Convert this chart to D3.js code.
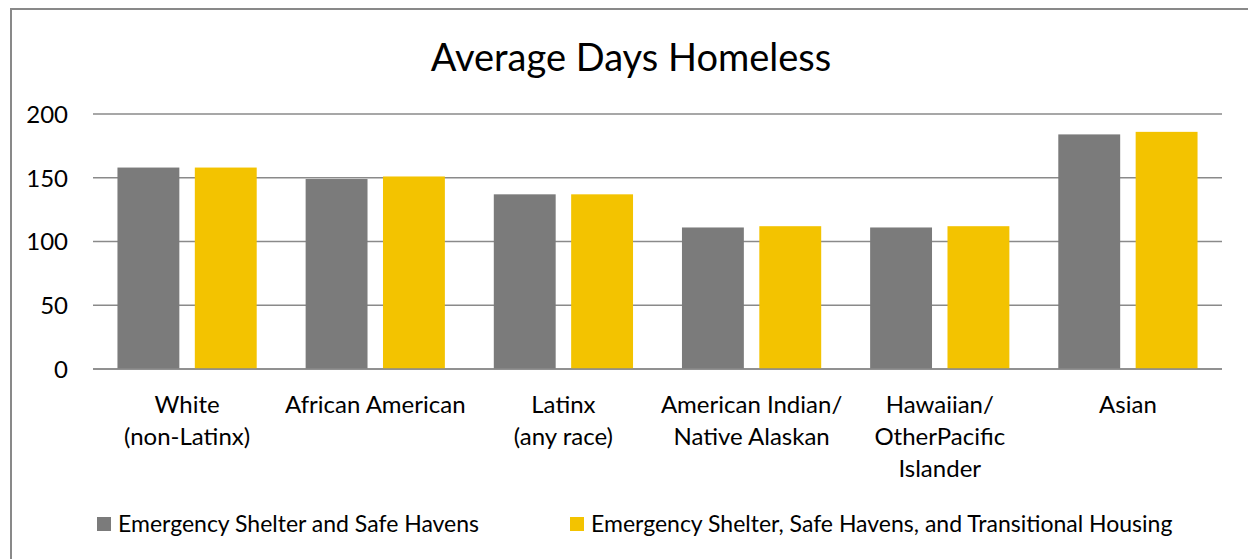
<!DOCTYPE html>
<html>
<head>
<meta charset="utf-8">
<script src="https://cdn.jsdelivr.net/npm/d3@7"></script>
<style>
  html, body { margin: 0; padding: 0; background: #fff; }
  svg { display: block; font-family: Lato, "Open Sans", sans-serif; }
</style>
</head>
<body>
<svg id="chart" width="1248" height="559"></svg>
<script>
// Average days homeless by race/ethnicity, two program groupings
const categories = [
  ["White", "(non-Latinx)"],
  ["African American"],
  ["Latinx", "(any race)"],
  ["American Indian/", "Native Alaskan"],
  ["Hawaiian/", "OtherPacific", "Islander"],
  ["Asian"]
];
const seriesNames = [
  "Emergency Shelter and Safe Havens",
  "Emergency Shelter, Safe Havens, and Transitional Housing"
];
const shelterSafeHavens = [158, 149, 137, 111, 111, 184];
const withTransitional = [158, 151, 137, 112, 112, 186];
const yTicks = [0, 50, 100, 150, 200];
const title = "Average Days Homeless";

const colors = ["#7b7b7b", "#f3c300"];
const seriesValues = [shelterSafeHavens, withTransitional];

const svg = d3.select("#chart");

// Chart frame (only the top and left edges fall inside the window)
svg.append("rect")
  .attr("x", 11).attr("y", 9)
  .attr("width", 1300).attr("height", 600)
  .attr("fill", "#fff")
  .attr("stroke", "#898989")
  .attr("stroke-width", 2);

svg.append("text")
  .attr("x", 631).attr("y", 71)
  .attr("text-anchor", "middle")
  .attr("font-size", 38)
  .attr("fill", "#000")
  .text(title);

const plot = { left: 93, right: 1222, top: 114, bottom: 369 };

const y = d3.scaleLinear().domain([0, 200]).range([plot.bottom, plot.top]);
const catKeys = categories.map((c, i) => i);
const x0 = d3.scaleBand().domain(catKeys).range([plot.left, plot.right]).padding(0);
const bw = x0.bandwidth();
const x1 = d3.scaleBand().domain([0, 1])
  .range([bw * 0.13, bw * 0.87])
  .paddingInner(0.2).paddingOuter(0);

// Horizontal gridlines
const grid = svg.append("g");
grid.selectAll("line")
  .data(yTicks)
  .join("line")
  .attr("x1", plot.left).attr("x2", plot.right)
  .attr("y1", d => y(d)).attr("y2", d => y(d))
  .attr("stroke", "#8a8a8a")
  .attr("stroke-width", 1.5);

// Y axis labels
const yAxis = d3.axisLeft(y).tickValues(yTicks).tickSize(0).tickPadding(0);
const yg = svg.append("g")
  .attr("transform", `translate(${plot.left - 25},0)`)
  .call(yAxis);
yg.select(".domain").remove();
yg.selectAll("text")
  .attr("font-size", 24)
  .attr("font-family", "Lato, 'Open Sans', sans-serif")
  .attr("fill", "#000")
  .attr("dy", "0.35em");

// Bars
const groups = svg.append("g").selectAll("g")
  .data(catKeys)
  .join("g")
  .attr("transform", i => `translate(${x0(i)},0)`);

groups.selectAll("rect")
  .data(i => seriesValues.map((vals, s) => ({ s, v: vals[i] })))
  .join("rect")
  .attr("x", d => x1(d.s))
  .attr("width", x1.bandwidth())
  .attr("y", d => y(d.v))
  .attr("height", d => y(0) - y(d.v))
  .attr("fill", d => colors[d.s]);

// Redraw the baseline over the bars
svg.append("line")
  .attr("x1", plot.left).attr("x2", plot.right)
  .attr("y1", y(0)).attr("y2", y(0))
  .attr("stroke", "#8a8a8a")
  .attr("stroke-width", 1.5);

// Category labels (multi-line)
const xl = svg.append("g").selectAll("text")
  .data(catKeys)
  .join("text")
  .attr("text-anchor", "middle")
  .attr("font-size", 24)
  .attr("fill", "#000");
xl.selectAll("tspan")
  .data(i => categories[i].map(line => ({ i, line })))
  .join("tspan")
  .attr("x", d => x0(d.i) + bw / 2)
  .attr("y", (d, k) => 413 + k * 32)
  .text(d => d.line);

// Legend
const legend = svg.append("g");
const legendX = [97, 570];
seriesNames.forEach((name, s) => {
  legend.append("rect")
    .attr("x", legendX[s]).attr("y", 517)
    .attr("width", 14).attr("height", 14)
    .attr("fill", colors[s]);
  legend.append("text")
    .attr("x", legendX[s] + 21).attr("y", 532)
    .attr("font-size", 23)
    .attr("fill", "#000")
    .text(name);
});
</script>
</body>
</html>
